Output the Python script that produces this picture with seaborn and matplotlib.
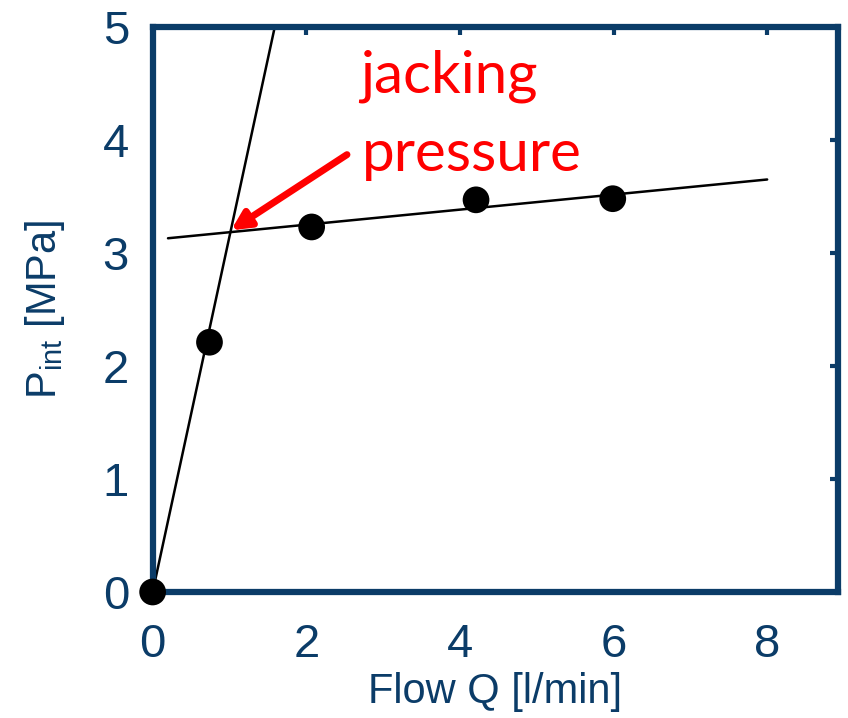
import numpy as np
import matplotlib
matplotlib.use('Agg')
import matplotlib.pyplot as plt
import seaborn as sns
import pandas as pd

# measured points
flow = [0.0, 0.74, 2.07, 4.21, 5.99]
p_int = [0.0, 2.21, 3.23, 3.47, 3.48]

# fitted lines (end points)
steep_x = [0.0, 1.59]
steep_y = [0.0, 5.0]
flat_x = [0.2, 8.0]
flat_y = [3.13, 3.65]

jack_xy = (1.02, 3.20)
label_xy = (2.53, 3.87)

navy = '#0b3c68'

sns.set_style('white')
plt.rcParams['font.family'] = ['Liberation Sans', 'DejaVu Sans']

fig = plt.figure(figsize=(8.48, 7.18), dpi=100)
ax = fig.add_axes([0.180, 0.1755, 0.808, 0.787])

pts = pd.DataFrame({'Q': flow, 'P': p_int})
sns.lineplot(x=steep_x, y=steep_y, color='black', linewidth=1.8, ax=ax)
sns.lineplot(x=flat_x, y=flat_y, color='black', linewidth=1.8, ax=ax)
sns.scatterplot(data=pts, x='Q', y='P', color='black', s=370, edgecolor='none',
                ax=ax, zorder=5, clip_on=False)

ax.set_xlim(0, 8.92)
ax.set_ylim(0, 5)
ax.set_xticks([0, 2, 4, 6, 8])
ax.set_yticks([0, 1, 2, 3, 4, 5])

for sp in ax.spines.values():
    sp.set_color(navy)
    sp.set_linewidth(4.5)
ax.tick_params(direction='in', length=6, width=3, color=navy, labelcolor=navy,
               labelsize=34, top=True, right=True)
ax.tick_params(axis='x', pad=22)
ax.tick_params(axis='y', pad=17)

ax.set_xlabel('Flow Q [l/min]', fontsize=30, color=navy, labelpad=4)
ax.set_ylabel('P$_{\\mathregular{int}}$ [MPa]', fontsize=30, color=navy, labelpad=26)

ax.annotate('', xy=jack_xy, xytext=label_xy,
            arrowprops=dict(arrowstyle='-|>,head_length=1.1,head_width=0.55',
                            color='red', lw=5, shrinkA=0, shrinkB=0))
txt_font = ['Lato', 'DejaVu Sans']
ax.text(2.70, 4.416, 'jacking', color='red', fontsize=42, family=txt_font,
        ha='left', va='baseline')
ax.text(2.72, 3.726, 'pressure', color='red', fontsize=42, family=txt_font,
        ha='left', va='baseline')

plt.savefig('out.png', dpi=100)
plt.close()
